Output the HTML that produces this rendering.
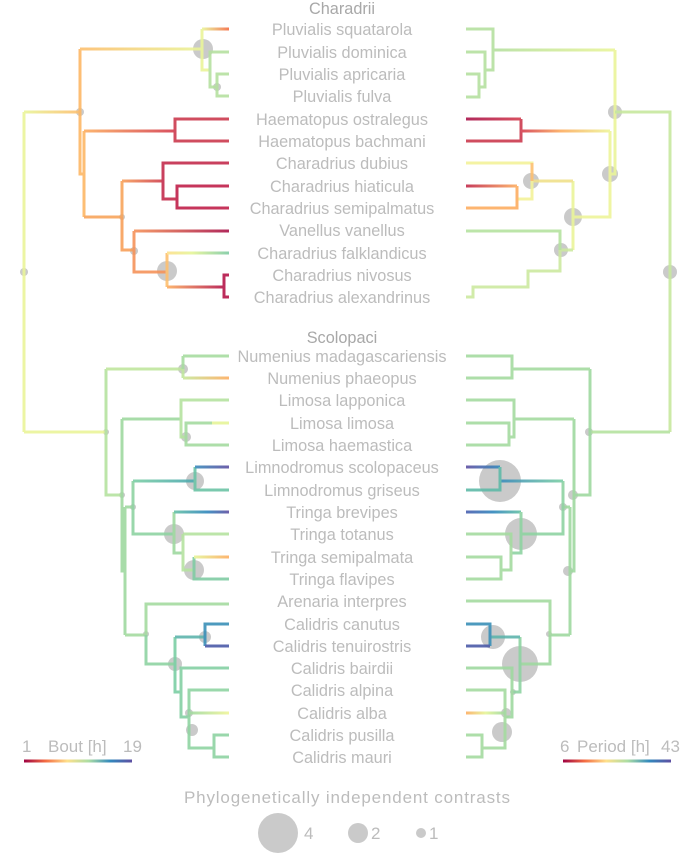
<!DOCTYPE html>
<html><head><meta charset="utf-8"><style>
html,body{margin:0;padding:0;background:#fff;}
svg{display:block;}
text{font-family:"Liberation Sans",sans-serif;fill:#bcbcbc;}
.l{font-size:16.3px;text-anchor:middle;}
path{fill:none;stroke-width:3;stroke-linejoin:miter;stroke-linecap:butt;}
.c{fill:#cacaca;}
</style></head><body>
<svg width="685" height="864" viewBox="0 0 685 864" xmlns="http://www.w3.org/2000/svg">
<defs>
<linearGradient id="gA"><stop offset="0" stop-color="#eaf59a"/><stop offset="1" stop-color="#fdbf6f"/></linearGradient>
<linearGradient id="gB"><stop offset="0" stop-color="#fdbf6f"/><stop offset="1" stop-color="#eaf59a"/></linearGradient>
<linearGradient id="gC"><stop offset="0" stop-color="#eaf59a"/><stop offset="1" stop-color="#f46d43"/></linearGradient>
<linearGradient id="gD"><stop offset="0" stop-color="#fdae61"/><stop offset="1" stop-color="#d53e4f"/></linearGradient>
<linearGradient id="gE"><stop offset="0" stop-color="#f8a05a"/><stop offset="1" stop-color="#d04050"/></linearGradient>
<linearGradient id="gF"><stop offset="0" stop-color="#f6935a"/><stop offset="1" stop-color="#a9134a"/></linearGradient>
<linearGradient id="gG"><stop offset="0" stop-color="#fee08b"/><stop offset="0.4" stop-color="#e6f598"/><stop offset="1" stop-color="#7fcba4"/></linearGradient>
<linearGradient id="gH"><stop offset="0" stop-color="#fdae61"/><stop offset="1" stop-color="#b5164a"/></linearGradient>
<linearGradient id="gI"><stop offset="0" stop-color="#c7e89b"/><stop offset="1" stop-color="#fdae61"/></linearGradient>
<linearGradient id="gJ"><stop offset="0" stop-color="#7ccfa5"/><stop offset="1" stop-color="#4ba8b0"/></linearGradient>
<linearGradient id="gJ2"><stop offset="0" stop-color="#3a8cbc"/><stop offset="1" stop-color="#5e4fa2"/></linearGradient>
<linearGradient id="gK"><stop offset="0" stop-color="#66c2a5"/><stop offset="0.6" stop-color="#3288bd"/><stop offset="1" stop-color="#5e4fa2"/></linearGradient>
<linearGradient id="gL"><stop offset="0" stop-color="#e6f598"/><stop offset="1" stop-color="#fdae61"/></linearGradient>
<linearGradient id="gM"><stop offset="0" stop-color="#9fd9a0"/><stop offset="1" stop-color="#f0f59a"/></linearGradient>
<linearGradient id="rA"><stop offset="0" stop-color="#d53e4f"/><stop offset="0.45" stop-color="#fdae61"/><stop offset="1" stop-color="#eef59a"/></linearGradient>
<linearGradient id="rH"><stop offset="0" stop-color="#a9134a"/><stop offset="1" stop-color="#d53e4f"/></linearGradient>
<linearGradient id="rB"><stop offset="0" stop-color="#c2294a"/><stop offset="1" stop-color="#fdae61"/></linearGradient>
<linearGradient id="rC"><stop offset="0" stop-color="#5e4fa2"/><stop offset="1" stop-color="#3288bd"/></linearGradient>
<linearGradient id="rC2"><stop offset="0" stop-color="#3a8cbc"/><stop offset="1" stop-color="#7ccfa5"/></linearGradient>
<linearGradient id="rD"><stop offset="0" stop-color="#4a5fb0"/><stop offset="0.5" stop-color="#3288bd"/><stop offset="1" stop-color="#66c2a5"/></linearGradient>
<linearGradient id="rE"><stop offset="0" stop-color="#fdae61"/><stop offset="0.5" stop-color="#e6f598"/><stop offset="1" stop-color="#9fd9a0"/></linearGradient>
<linearGradient id="rG"><stop offset="0" stop-color="#b5e0a0"/><stop offset="1" stop-color="#eaf59a"/></linearGradient>
<linearGradient id="spec"><stop offset="0" stop-color="#9e0142"/><stop offset="0.2" stop-color="#f46d43"/><stop offset="0.4" stop-color="#fee08b"/><stop offset="0.6" stop-color="#abdda4"/><stop offset="0.8" stop-color="#3288bd"/><stop offset="1" stop-color="#5e4fa2"/></linearGradient>
</defs>

<circle class="c" cx="203" cy="49" r="10"/><circle class="c" cx="217" cy="87" r="4"/>
<circle class="c" cx="80" cy="112" r="4"/><circle class="c" cx="122" cy="217" r="3"/>
<circle class="c" cx="134" cy="251" r="4"/><circle class="c" cx="167" cy="271" r="10"/>
<circle class="c" cx="24" cy="272" r="4"/>
<circle class="c" cx="183" cy="369" r="5"/><circle class="c" cx="106" cy="432" r="3"/>
<circle class="c" cx="186" cy="437" r="5"/><circle class="c" cx="195" cy="481" r="9"/>
<circle class="c" cx="122" cy="495" r="3"/><circle class="c" cx="133" cy="507" r="3"/>
<circle class="c" cx="174" cy="534" r="10"/><circle class="c" cx="194" cy="570" r="10"/>
<circle class="c" cx="146" cy="634" r="3"/><circle class="c" cx="205" cy="637" r="6"/>
<circle class="c" cx="175" cy="664" r="7"/><circle class="c" cx="189" cy="713" r="4"/>
<circle class="c" cx="192" cy="730" r="6"/>
<circle class="c" cx="615" cy="112" r="7"/><circle class="c" cx="610" cy="174" r="8"/>
<circle class="c" cx="531" cy="181" r="8"/><circle class="c" cx="573" cy="217" r="9"/>
<circle class="c" cx="561" cy="250" r="7"/><circle class="c" cx="670" cy="272" r="7"/>
<circle class="c" cx="589" cy="432" r="4"/><circle class="c" cx="500" cy="481" r="21"/>
<circle class="c" cx="573" cy="495" r="5"/><circle class="c" cx="563" cy="507" r="4"/>
<circle class="c" cx="521" cy="534" r="16"/><circle class="c" cx="568" cy="571" r="5"/>
<circle class="c" cx="549" cy="634" r="3"/><circle class="c" cx="493" cy="637" r="12"/>
<circle class="c" cx="520" cy="664" r="18"/><circle class="c" cx="513" cy="692" r="3"/>
<circle class="c" cx="506" cy="713" r="5"/><circle class="c" cx="502" cy="732" r="10"/>

<g opacity="0.9">
<path d="M24 112V432" stroke="#eaf59a"/>
<rect x="24" y="110.5" width="56" height="3" fill="url(#gA)"/>
<path d="M80 49V174H84" stroke="#fdb865"/>
<path d="M84 131V217" stroke="#fdb865"/>
<rect x="80" y="47.5" width="122" height="3" fill="url(#gB)"/>
<path d="M202 29V70H210" stroke="#eaf59a"/>
<rect x="202" y="27.5" width="27" height="3" fill="url(#gC)"/>
<path d="M229 52H210V87H217" stroke="#b5e0a0"/>
<path d="M229 74H217V96H229" stroke="#b5e0a0"/>
<rect x="84" y="129.5" width="91" height="3" fill="url(#gD)"/>
<path d="M229 119H175V141H229" stroke="#cc3a4e"/>
<path d="M84 217H122V181" stroke="#f8a55c"/>
<path d="M122 217V250H134" stroke="#f8a05a"/>
<rect x="122" y="179.5" width="41" height="3" fill="url(#gE)"/>
<path d="M229 163H163V199H177" stroke="#c42c4d"/>
<path d="M229 186H177V208H229" stroke="#c0204a"/>
<path d="M134 231V272H167" stroke="#f6935a"/>
<rect x="134" y="229.5" width="95" height="3" fill="url(#gF)"/>
<path d="M167 253V287" stroke="#fdc070"/>
<rect x="167" y="251.5" width="62" height="3" fill="url(#gG)"/>
<rect x="167" y="285.5" width="57" height="3" fill="url(#gH)"/>
<path d="M229 275H224V297H229" stroke="#b5164a"/>

<path d="M24 432H106" stroke="#eaf59a"/>
<path d="M106 369V495H122" stroke="#b5e3a0"/>
<path d="M106 369H183V378" stroke="#c0e69e"/>
<path d="M183 356V369M183 356H229" stroke="#a7dca0"/>
<rect x="183" y="376.5" width="46" height="3" fill="url(#gI)"/>
<path d="M122 419V571H125" stroke="#9fd9a0"/>
<path d="M125 507V635" stroke="#9fd9a0"/>
<path d="M125 507H133" stroke="#9fd9a0"/>
<path d="M122 419H181" stroke="#9fd9a0"/>
<path d="M229 400H181V437H186" stroke="#b5e3a0"/>
<path d="M229 423H186V445H229" stroke="#a5dba0"/>
<path d="M212 423H229" stroke="#e6f598"/>
<path d="M133 481V534H174" stroke="#8fd3a2"/>
<rect x="133" y="479.5" width="62" height="3" fill="url(#gJ)"/>
<path d="M195 467V490H229" stroke="#6cc4a6"/>
<rect x="195" y="465.5" width="34" height="3" fill="url(#gJ2)"/>
<path d="M174 512V553H183" stroke="#9fd9a0"/>
<rect x="174" y="510.5" width="55" height="3" fill="url(#gK)"/>
<path d="M183 534V570H194M183 534H229" stroke="#b5e3a0"/>
<path d="M194 557V579H229" stroke="#80cca4"/>
<rect x="194" y="555.5" width="35" height="3" fill="url(#gL)"/>
<path d="M125 635H146V604H229" stroke="#a5dba0"/>
<path d="M146 635V664H175" stroke="#8fd3a2"/>
<path d="M175 637V692H181" stroke="#7ccfa5"/>
<path d="M175 637H205" stroke="#5eb4ac"/>
<path d="M229 624H205V646" stroke="#3a90b8"/>
<path d="M205 646H229" stroke="#4b5aa8"/>
<path d="M229 668H181V717H189" stroke="#85d0a4"/>
<path d="M229 690H189V748H214" stroke="#90d4a2"/>
<rect x="189" y="711.5" width="40" height="3" fill="url(#gM)"/>
<path d="M229 735H214V757H229" stroke="#8fd3a2"/>

<path d="M466 29H493V70H485" stroke="#b5e0a0"/>
<path d="M466 52H485V87H479" stroke="#b5e0a0"/>
<path d="M466 74H479V97H466" stroke="#b5e0a0"/>
<rect x="493" y="48.5" width="122" height="3" fill="url(#rG)"/>
<path d="M615 50V174H610" stroke="#eaf59a"/>
<path d="M615 112H670V432" stroke="#c7e89e"/>
<rect x="466" y="117.5" width="55" height="3" fill="url(#rH)"/>
<path d="M466 141H521V119" stroke="#cc3a4e"/>
<rect x="521" y="129.5" width="89" height="3" fill="url(#rA)"/>
<path d="M610 131V217H573" stroke="#eef59a"/>
<path d="M573 181V250" stroke="#eaf59a"/>
<path d="M573 181H532" stroke="#f0e08b"/>
<path d="M466 163H532V199H517" stroke="#f3f29a"/>
<path d="M532 163V181" stroke="#fdc070"/>
<rect x="466" y="184.5" width="51" height="3" fill="url(#rB)"/>
<path d="M517 186V208H466" stroke="#fdae61"/>
<path d="M573 250H560V271H528V287H473V297H466" stroke="#cde9a0"/>
<path d="M466 231H560V250" stroke="#b5e3a0"/>

<path d="M670 432H590" stroke="#b5e3a0"/>
<path d="M590 369V495H574" stroke="#9fd9a0"/>
<path d="M590 369H512M466 356H512V378H466" stroke="#a5dba0"/>
<path d="M574 419V571H570" stroke="#9fd9a0"/>
<path d="M574 419H514M466 400H514V437H509" stroke="#a5dba0"/>
<path d="M466 423H509V445H466" stroke="#a5dba0"/>
<path d="M570 507V635" stroke="#9fd9a0"/>
<path d="M570 507H563" stroke="#9fd9a0"/>
<path d="M563 481V534H521" stroke="#8fd3a2"/>
<rect x="500" y="479.5" width="63" height="3" fill="url(#rC2)"/>
<rect x="466" y="465.5" width="34" height="3" fill="url(#rC)"/>
<path d="M500 467V490H466" stroke="#5fbaa8"/>
<rect x="466" y="510.5" width="55" height="3" fill="url(#rD)"/>
<path d="M521 512V553H511" stroke="#8fd3a2"/>
<path d="M466 534H511V570H501" stroke="#a5dba0"/>
<path d="M466 557H501V579H466" stroke="#a5dba0"/>
<path d="M570 635H550V664H520" stroke="#9fd9a0"/>
<path d="M466 601H550V635" stroke="#a5dba0"/>
<path d="M520 637V692H512" stroke="#8fd3a2"/>
<path d="M520 637H490" stroke="#5eb4ac"/>
<path d="M466 624H490V646" stroke="#3a90b8"/>
<path d="M490 646H466" stroke="#4b5aa8"/>
<path d="M466 668H512V717H505" stroke="#9fd9a0"/>
<path d="M466 690H505V748H482" stroke="#a5dba0"/>
<rect x="466" y="711.5" width="39" height="3" fill="url(#rE)"/>
<path d="M466 735H482V757H466" stroke="#a5dba0"/>
</g>

<text class="l" x="342" y="14" style="fill:#a8a8a8">Charadrii</text>
<text class="l" x="342" y="35">Pluvialis squatarola</text>
<text class="l" x="342" y="58">Pluvialis dominica</text>
<text class="l" x="342" y="80">Pluvialis apricaria</text>
<text class="l" x="342" y="102">Pluvialis fulva</text>
<text class="l" x="342" y="125">Haematopus ostralegus</text>
<text class="l" x="342" y="147">Haematopus bachmani</text>
<text class="l" x="342" y="169">Charadrius dubius</text>
<text class="l" x="342" y="192">Charadrius hiaticula</text>
<text class="l" x="342" y="214">Charadrius semipalmatus</text>
<text class="l" x="342" y="236">Vanellus vanellus</text>
<text class="l" x="342" y="259">Charadrius falklandicus</text>
<text class="l" x="342" y="281">Charadrius nivosus</text>
<text class="l" x="342" y="303">Charadrius alexandrinus</text>
<text class="l" x="342" y="343" style="fill:#a8a8a8">Scolopaci</text>
<text class="l" x="342" y="362">Numenius madagascariensis</text>
<text class="l" x="342" y="384">Numenius phaeopus</text>
<text class="l" x="342" y="406">Limosa lapponica</text>
<text class="l" x="342" y="429">Limosa limosa</text>
<text class="l" x="342" y="451">Limosa haemastica</text>
<text class="l" x="342" y="473">Limnodromus scolopaceus</text>
<text class="l" x="342" y="496">Limnodromus griseus</text>
<text class="l" x="342" y="518">Tringa brevipes</text>
<text class="l" x="342" y="540">Tringa totanus</text>
<text class="l" x="342" y="563">Tringa semipalmata</text>
<text class="l" x="342" y="585">Tringa flavipes</text>
<text class="l" x="342" y="607">Arenaria interpres</text>
<text class="l" x="342" y="630">Calidris canutus</text>
<text class="l" x="342" y="652">Calidris tenuirostris</text>
<text class="l" x="342" y="674">Calidris bairdii</text>
<text class="l" x="342" y="696">Calidris alpina</text>
<text class="l" x="342" y="719">Calidris alba</text>
<text class="l" x="342" y="741">Calidris pusilla</text>
<text class="l" x="342" y="763">Calidris mauri</text>

<text x="22" y="752" style="font-size:17px">1</text>
<text x="48" y="752" style="font-size:17px">Bout [h]</text>
<text x="123" y="752" style="font-size:17px">19</text>
<rect x="24" y="759.5" width="108" height="3" fill="url(#spec)"/>
<text x="560" y="752" style="font-size:17px">6</text>
<text x="577" y="752" style="font-size:17px">Period [h]</text>
<text x="661" y="752" style="font-size:17px">43</text>
<rect x="563" y="759.5" width="108" height="3" fill="url(#spec)"/>

<text x="347" y="803" style="font-size:17px;text-anchor:middle" textLength="326">Phylogenetically independent contrasts</text>
<circle class="c" cx="278" cy="833" r="20"/>
<text x="304" y="839" style="font-size:17px">4</text>
<circle class="c" cx="358" cy="833" r="10"/>
<text x="371" y="839" style="font-size:17px">2</text>
<circle class="c" cx="421" cy="833" r="5"/>
<text x="429" y="839" style="font-size:17px">1</text>
</svg>
</body></html>
